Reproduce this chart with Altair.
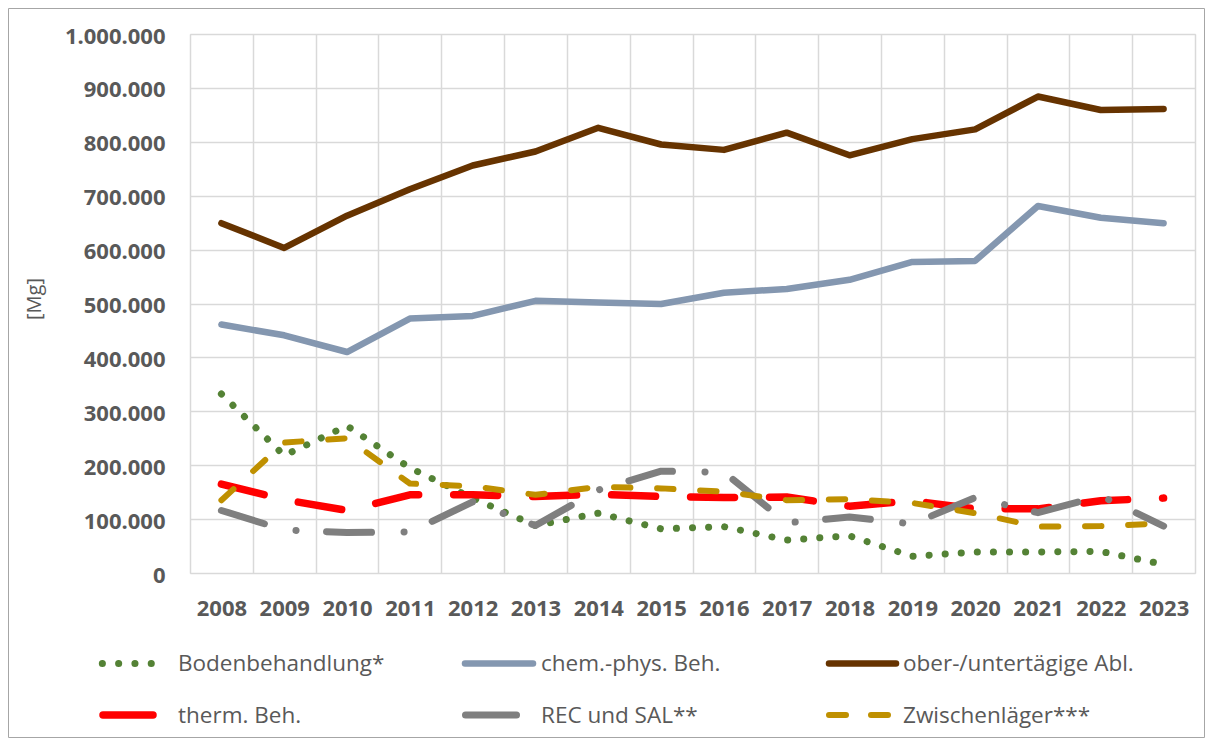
import altair as alt
import pandas as pd

# ---------------- data ----------------
years = list(range(2008, 2024))

bodenbehandlung = [332000, 218000, 273000, 195000, 139000, 88000, 111000, 82000,
                   86000, 61000, 69000, 31000, 39000, 39000, 40000, 16000]
chem_phys = [461000, 441000, 410000, 472000, 477000, 505000, 502000, 499000,
             520000, 527000, 544000, 577000, 579000, 681000, 659000, 649000]
ober_unter = [649000, 603000, 663000, 712000, 756000, 782000, 826000, 795000,
              785000, 817000, 775000, 805000, 823000, 884000, 859000, 861000]
therm = [165000, 136000, 116000, 145000, 145000, 142000, 146000, 142000,
         140000, 141000, 124000, 134000, 119000, 119000, 134000, 139000]
rec_sal = [116000, 80000, 75000, 76000, 132000, 88000, 154000, 189000,
           187000, 93000, 104000, 91000, 140000, 112000, 143000, 87000]
zwischen = [135000, 242000, 250000, 166000, 161000, 145000, 160000, 157000,
            151000, 135000, 137000, 130000, 111000, 86000, 87000, 92000]

names = ["Bodenbehandlung*", "chem.-phys. Beh.", "ober-/untertägige Abl.",
         "therm. Beh.", "REC und SAL**", "Zwischenläger***"]
series_values = [bodenbehandlung, chem_phys, ober_unter, therm, rec_sal, zwischen]
y_ticks = list(range(0, 1000001, 100000))

rows = []
for n, vals in zip(names, series_values):
    for yr, v in zip(years, vals):
        rows.append({"year": yr, "series": n, "value": v})
df = pd.DataFrame(rows)

# ---------------- styles ----------------
colors = ["#548235", "#8497B0", "#663300", "#FF0000", "#7F7F7F", "#BF9000"]
widths = [7, 6.5, 6.5, 7.5, 7, 6]
dashes = [[0.1, 16], None, None, [44, 35], [45, 32.5, 0.1, 30.5], [16.4, 26.7]]
legend_dashes = [[0.1, 16.2], None, None, None, None, [17, 25]]
legend_spans = [(102.3, 167.4), (465, 533), (829, 896),
                (103, 153), (465.5, 516.5), (829, 888)]
legend_text_x = [178, 541, 903]
legend_sym_y = [663.5, 715]
legend_text_y = [670.7, 722.7]

FONT = "Open Sans"
TXT = "#595959"
PLOT_X0, PLOT_Y0 = 190, 34   # page position of plot origin
W, H = 1005, 539

x_enc = alt.X(
    "year:O",
    bandPosition=0.5,
    scale=alt.Scale(type="band", paddingInner=0, paddingOuter=0),
    axis=alt.Axis(
        title=None, tickBand="extent", grid=True, gridColor="#D9D9D9",
        gridWidth=1.5, domain=False, ticks=False, tickSize=0, labelAngle=0,
        labelFont=FONT, labelFontSize=22, labelFontWeight="bold",
        labelColor=TXT, labelPadding=25,
    ),
)
y_enc = alt.Y(
    "value:Q",
    scale=alt.Scale(domain=[0, 1000000], nice=False),
    axis=alt.Axis(
        values=y_ticks, format=",d", grid=True, gridColor="#D9D9D9",
        gridWidth=1.5, domain=False, ticks=False, tickSize=0,
        labelFont=FONT, labelFontSize=22, labelFontWeight="bold",
        labelColor=TXT, labelPadding=25, labelOffset=2,
        title="[Mg]", titleFont=FONT, titleFontSize=20,
        titleFontWeight="normal", titleColor=TXT, titleAngle=270,
        titleAlign="center", titleBaseline="middle",
        titleX=34.5 - PLOT_X0, titleY=298.5 - PLOT_Y0,
    ),
)

layers = []

# outer chart border
border = alt.Chart(pd.DataFrame({"a": [0]})).mark_rect(
    filled=False, color="#A6A6A6", strokeWidth=1
).encode(
    x=alt.value(8.5 - PLOT_X0), x2=alt.value(1204.5 - PLOT_X0),
    y=alt.value(8.5 - PLOT_Y0), y2=alt.value(737.5 - PLOT_Y0),
)
layers.append(border)

for i, n in enumerate(names):
    kw = dict(color=colors[i], strokeWidth=widths[i], strokeCap="round",
              strokeJoin="round")
    if dashes[i] is not None:
        kw["strokeDash"] = dashes[i]
    line = alt.Chart(df).transform_filter(
        alt.datum.series == n
    ).mark_line(**kw).encode(x=x_enc, y=y_enc)
    layers.append(line)

# legend
for i, n in enumerate(names):
    col, row = i % 3, i // 3
    ldf = pd.DataFrame({"series": [n]})
    kw = dict(color=colors[i], strokeWidth=widths[i], strokeCap="round")
    if legend_dashes[i] is not None:
        kw["strokeDash"] = legend_dashes[i]
    x0, x1 = legend_spans[i]
    sym = alt.Chart(ldf).mark_rule(**kw).encode(
        x=alt.value(x0 - PLOT_X0), x2=alt.value(x1 - PLOT_X0),
        y=alt.value(legend_sym_y[row] - PLOT_Y0),
    )
    txt = alt.Chart(ldf).mark_text(
        align="left", baseline="alphabetic", font=FONT, fontSize=22.5,
        color=TXT,
    ).encode(
        x=alt.value(legend_text_x[col] - PLOT_X0),
        y=alt.value(legend_text_y[row] - PLOT_Y0),
        text="series:N",
    )
    layers += [sym, txt]

chart = alt.layer(*layers).properties(
    width=W, height=H,
    padding={"left": PLOT_X0 - 8, "top": PLOT_Y0 - 8, "right": 10,
             "bottom": 730 - (PLOT_Y0 - 8) - H},
    autosize=alt.AutoSizeParams(type="none"),
    background="white",
).configure_view(
    stroke="#808080", strokeWidth=2
).configure(
    locale={"number": {"decimal": ",", "thousands": ".", "grouping": [3],
                       "currency": ["", " €"]}}
)

chart.save("out.html", embed_options={"renderer": "svg", "actions": False})
